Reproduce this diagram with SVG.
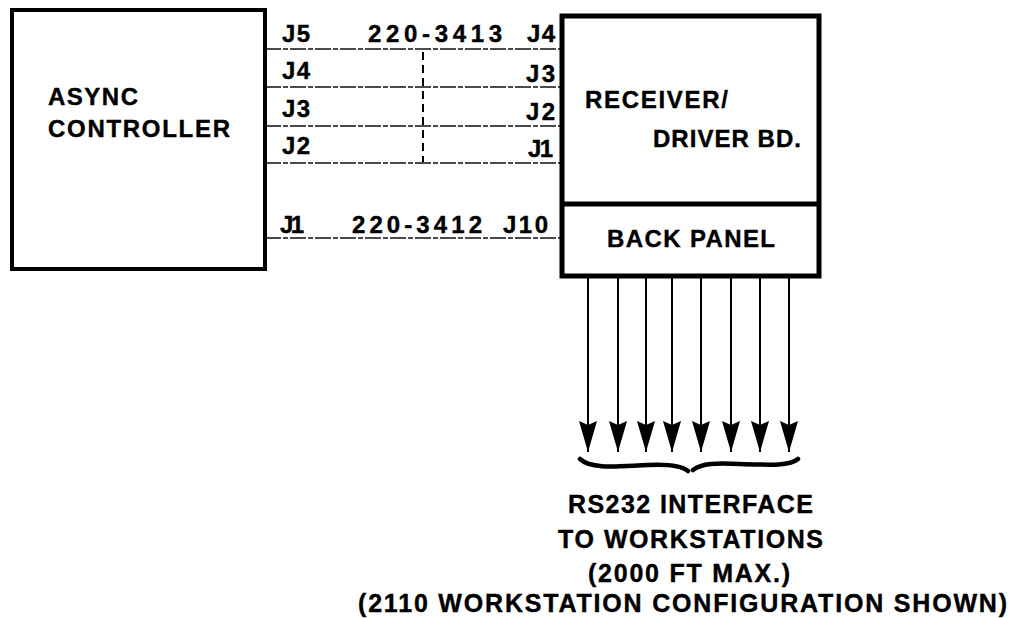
<svg xmlns="http://www.w3.org/2000/svg" width="1013" height="618" viewBox="0 0 1013 618">
<style>
.box{fill:#fff;stroke:#000;stroke-width:4}
.t{font-family:"Liberation Sans",Arial,sans-serif;font-weight:bold;font-size:24px;fill:#000;stroke:#000;stroke-width:0.4}
.b{font-size:25px}
.cable{stroke:#111;stroke-width:1.5;fill:none;stroke-dasharray:16 2 5 2}
.vd{stroke:#000;stroke-width:2;fill:none;stroke-dasharray:8 5}
.out{stroke:#000;stroke-width:2;fill:none}
.brace{stroke:#000;stroke-width:4.5;fill:none;stroke-linecap:round}
</style>
<defs>
<marker id="ah" markerUnits="userSpaceOnUse" viewBox="-32 -10 33 20" markerWidth="33" markerHeight="20" refX="0" refY="0" orient="auto">
<path d="M0,0 L-31,-9 L-27,0 L-31,9 Z" fill="#000"/>
</marker>
</defs>
<rect width="1013" height="618" fill="#fff"/>
<g id="connectors">
<line class="cable" x1="265" y1="49" x2="562" y2="49"/>
<line class="cable" x1="265" y1="87" x2="562" y2="87"/>
<line class="cable" x1="265" y1="126" x2="562" y2="126"/>
<line class="cable" x1="265" y1="163" x2="562" y2="163"/>
<line class="vd" x1="423" y1="52" x2="423" y2="162"/>
<line class="cable" x1="265" y1="238" x2="562" y2="238"/>
<line class="out" x1="588" y1="278" x2="588" y2="452" marker-end="url(#ah)"/>
<line class="out" x1="618" y1="278" x2="618" y2="452" marker-end="url(#ah)"/>
<line class="out" x1="646" y1="278" x2="646" y2="452" marker-end="url(#ah)"/>
<line class="out" x1="672" y1="278" x2="672" y2="452" marker-end="url(#ah)"/>
<line class="out" x1="701" y1="278" x2="701" y2="452" marker-end="url(#ah)"/>
<line class="out" x1="731" y1="278" x2="731" y2="452" marker-end="url(#ah)"/>
<line class="out" x1="760" y1="278" x2="760" y2="452" marker-end="url(#ah)"/>
<line class="out" x1="789" y1="278" x2="789" y2="452" marker-end="url(#ah)"/>
<path class="brace" d="M580,459 C592,470 620,466 648,465 C668,464 682,466 688,471 M693,470 C702,463 716,463 740,464 C770,465 790,466 798,459"/>
</g>
<g id="cable-labels">
<text class="t" x="282" y="42" textLength="28" lengthAdjust="spacing">J5</text>
<text class="t" x="368" y="42" textLength="134" lengthAdjust="spacing">220-3413</text>
<text class="t" x="527" y="42" textLength="28" lengthAdjust="spacing">J4</text>
<text class="t" x="282" y="79" textLength="28" lengthAdjust="spacing">J4</text>
<text class="t" x="526" y="82" textLength="29" lengthAdjust="spacing">J3</text>
<text class="t" x="282" y="117" textLength="28" lengthAdjust="spacing">J3</text>
<text class="t" x="526" y="120" textLength="29" lengthAdjust="spacing">J2</text>
<text class="t" x="282" y="154" textLength="28" lengthAdjust="spacing">J2</text>
<text class="t" x="528" y="157" textLength="25" lengthAdjust="spacing">J1</text>
<text class="t" x="280" y="233" textLength="24" lengthAdjust="spacing">J1</text>
<text class="t" x="352" y="233" textLength="130" lengthAdjust="spacing">220-3412</text>
<text class="t" x="503" y="233" textLength="45" lengthAdjust="spacing">J10</text>
</g>
<g id="async-controller">
<rect class="box" x="12" y="10" width="253" height="259"/>
<text class="t" x="48" y="105" textLength="90" lengthAdjust="spacing">ASYNC</text>
<text class="t" x="48" y="137" textLength="182" lengthAdjust="spacing">CONTROLLER</text>
</g>
<g id="receiver-driver">
<rect class="box" x="562" y="16" width="257" height="260" style="stroke-width:5"/>
<line x1="562" y1="204" x2="819" y2="204" stroke="#000" stroke-width="5"/>
<text class="t" x="585" y="108" textLength="143" lengthAdjust="spacing">RECEIVER/</text>
<text class="t" x="653" y="147" textLength="148" lengthAdjust="spacing">DRIVER BD.</text>
</g>
<g id="back-panel">
<text class="t" x="607" y="247" textLength="168" lengthAdjust="spacing">BACK PANEL</text>
</g>
<g id="caption">
<text class="t b" x="568" y="513" textLength="245" lengthAdjust="spacing">RS232 INTERFACE</text>
<text class="t b" x="558" y="548" textLength="265" lengthAdjust="spacing">TO WORKSTATIONS</text>
<text class="t b" x="588" y="582" textLength="202" lengthAdjust="spacing">(2000 FT MAX.)</text>
<text class="t b" x="358" y="612" textLength="649" lengthAdjust="spacing">(2110 WORKSTATION CONFIGURATION SHOWN)</text>
</g>
</svg>
